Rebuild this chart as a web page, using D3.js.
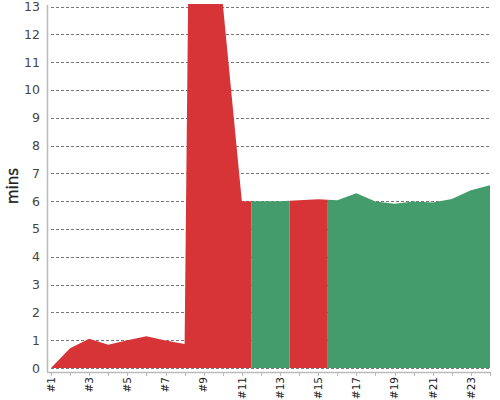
<!DOCTYPE html>
<html>
<head>
<meta charset="utf-8">
<script src="https://cdn.jsdelivr.net/npm/d3@7"></script>
<style>
  body { margin: 0; background: #fff; }
  svg { display: block; }
</style>
</head>
<body>
<svg id="chart"></svg>
<script>
// run labels and durations (mins)
var labels = ["#1","#2","#3","#4","#5","#6","#7","#8","#9","#10","#11","#12",
              "#13","#14","#15","#16","#17","#18","#19","#20","#21","#22","#23","#24"];
var mins = [0, 0.71, 1.05, 0.84, 1.0, 1.14, 0.99, 0.86, 68, 13.1, 6.0, 6.0,
            6.0, 6.03, 6.07, 6.03, 6.28, 5.99, 5.91, 5.99, 5.95, 6.08, 6.39, 6.57];
// status of each run: true = ok (green), false = failed (red)
var passed = [false,false,false,false,false,false,false,false,false,false,false,true,
              true,false,false,true,true,true,true,true,true,true,true,true];
var yTicks = [0,1,2,3,4,5,6,7,8,9,10,11,12,13];
var yMax = 13.09;

var width = 500, height = 400;
var margin = {top: 4, right: 10, bottom: 32, left: 51};

var red = "#d63437", green = "#449c6c";

var svg = d3.select("#chart").attr("width", width).attr("height", height);

var x = d3.scalePoint()
  .domain(labels)
  .range([margin.left, width - margin.right]);
var step = x.step();

var y = d3.scaleLinear()
  .domain([0, yMax])
  .range([height - margin.bottom, margin.top]);

// grid lines
svg.append("g")
  .selectAll("line")
  .data(yTicks)
  .enter().append("line")
  .attr("x1", margin.left)
  .attr("x2", width - margin.right)
  .attr("y1", function (d) { return Math.round(y(d)) + 0.5 })
  .attr("y2", function (d) { return Math.round(y(d)) + 0.5 })
  .attr("stroke", "#777")
  .attr("stroke-width", 1)
  .attr("stroke-dasharray", "3,2");

// clip to plot area
svg.append("defs").append("clipPath").attr("id", "plot")
  .append("rect")
  .attr("x", margin.left)
  .attr("y", margin.top)
  .attr("width", width - margin.right - margin.left)
  .attr("height", height - margin.bottom - margin.top);

var area = d3.area()
  .x(function (d, i) { return x(labels[i]) })
  .y0(y(0))
  .y1(function (d) { return y(d) });

// each run owns half a step on both sides; colour the area by run status
var defs = svg.select("defs");
[true, false].forEach(function (ok) {
  var id = ok ? "cells-ok" : "cells-bad";
  var cp = defs.append("clipPath").attr("id", id);
  labels.forEach(function (l, i) {
    if (passed[i] !== ok) return;
    cp.append("rect")
      .attr("x", x(l) - step / 2)
      .attr("y", margin.top)
      .attr("width", step)
      .attr("height", height - margin.bottom - margin.top);
  });
  svg.append("g").attr("clip-path", "url(#plot)")
    .append("path")
    .datum(mins)
    .attr("clip-path", "url(#" + id + ")")
    .attr("d", area)
    .attr("fill", ok ? green : red);
});

// y axis
var yAxis = svg.append("g");
yAxis.append("line")
  .attr("x1", 47.5).attr("x2", 47.5)
  .attr("y1", margin.top + 1).attr("y2", height - margin.bottom + 4)
  .attr("stroke", "#bbb").attr("stroke-width", 1.5);
yAxis.selectAll("text")
  .data(yTicks)
  .enter().append("text")
  .attr("x", 40)
  .attr("y", function (d) { return y(d) })
  .attr("dy", "0.36em")
  .attr("text-anchor", "end")
  .attr("font-family", "DejaVu Sans, sans-serif")
  .attr("font-size", 12.5)
  .attr("fill", "#444")
  .text(function (d) { return d });

svg.append("text")
  .attr("transform", "translate(18," + 186 + ") rotate(-90)")
  .attr("text-anchor", "middle")
  .attr("font-family", "DejaVu Sans, sans-serif")
  .attr("font-size", 15)
  .attr("fill", "#222")
  .attr("stroke", "#222")
  .attr("stroke-width", 0.3)
  .text("mins");

// x axis
var xAxis = svg.append("g");
var axisY = height - margin.bottom + 4;
xAxis.append("line")
  .attr("x1", 47).attr("x2", width - margin.right + 1)
  .attr("y1", axisY + 0.5).attr("y2", axisY + 0.5)
  .attr("stroke", "#bbb").attr("stroke-width", 1.5);
xAxis.selectAll(".tick")
  .data(labels)
  .enter().append("line")
  .attr("class", "tick")
  .attr("x1", function (d) { return Math.round(x(d)) + 0.5 })
  .attr("x2", function (d) { return Math.round(x(d)) + 0.5 })
  .attr("y1", axisY).attr("y2", axisY + 4)
  .attr("stroke", "#bbb");
xAxis.selectAll("text")
  .data(labels.filter(function (d, i) { return i % 2 === 0 }))
  .enter().append("text")
  .attr("transform", function (d) { return "translate(" + x(d) + "," + (axisY + 5) + ") rotate(-90)" })
  .attr("dy", "0.36em")
  .attr("text-anchor", "end")
  .attr("font-family", "DejaVu Sans, sans-serif")
  .attr("font-size", 10.5)
  .attr("fill", "#222")
  .text(function (d) { return d });
</script>
</body>
</html>
